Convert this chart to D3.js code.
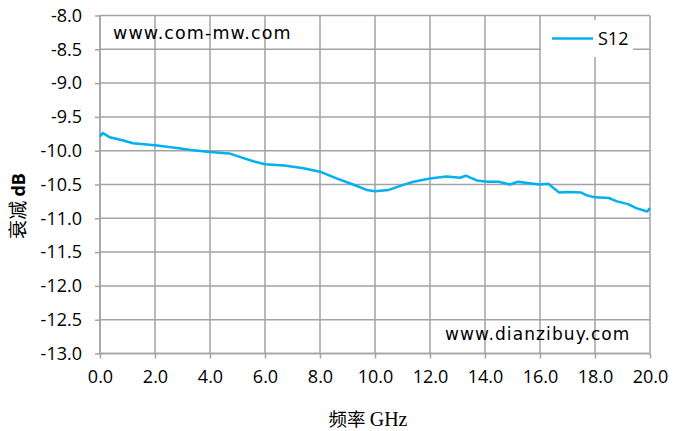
<!DOCTYPE html>
<html>
<head>
<meta charset="utf-8">
<script src="https://cdn.jsdelivr.net/npm/d3@7"></script>
<style>
  body { margin: 0; background: #fff; }
  svg { display: block; }
</style>
</head>
<body>
<svg id="chart"></svg>
<script>
// values
var freqGHz = [0, 0.1, 0.35, 0.85, 1.2, 2.0, 2.8, 3.3, 4.0, 4.7, 5.0, 5.6, 6.0, 6.7, 7.4, 8.0,
    8.6, 9.2, 9.7, 10.0, 10.5, 11.0, 11.4, 12.0, 12.6, 13.1, 13.3, 13.7, 14.1, 14.5, 14.9,
    15.2, 15.6, 16.0, 16.3, 16.7, 17.0, 17.5, 17.7, 18.0, 18.5, 18.8, 19.2, 19.5, 19.9, 20.0];
var s12 = [-9.79, -9.74, -9.80, -9.85, -9.89, -9.92, -9.96, -9.99, -10.02, -10.04, -10.08, -10.16,
    -10.20, -10.22, -10.26, -10.31, -10.41, -10.50, -10.58, -10.60, -10.58, -10.51, -10.46, -10.41,
    -10.38, -10.40, -10.37, -10.44, -10.46, -10.46, -10.50, -10.46, -10.48, -10.50, -10.49, -10.62,
    -10.61, -10.62, -10.66, -10.69, -10.70, -10.75, -10.79, -10.85, -10.90, -10.85];
var xTicks = [0, 2, 4, 6, 8, 10, 12, 14, 16, 18, 20];
var yTicks = [-8, -8.5, -9, -9.5, -10, -10.5, -11, -11.5, -12, -12.5, -13];
var seriesName = "S12";

var svgWidth = 685, svgHeight = 431;
var margin = { top: 15.5, right: 35, bottom: 77.5, left: 100 };
var width = svgWidth - margin.left - margin.right;
var height = svgHeight - margin.top - margin.bottom;

var svg = d3.select("#chart")
    .attr("width", svgWidth)
    .attr("height", svgHeight);

var xScale = d3.scaleLinear().domain([0, 20]).range([0, width]);
var yScale = d3.scaleLinear().domain([-13, -8]).range([height, 0]);

var g = svg.append("g")
    .attr("transform", "translate(" + margin.left + "," + margin.top + ")");

var gridColor = "#a3a3a3";
var tickFont = "'Open Sans', sans-serif";
// plain hyphen for the minus sign, like the original
var fmt = function(d) { return d.toFixed(1); };

// gridlines
g.append("g").selectAll("line").data(yTicks).join("line")
    .attr("x1", 0).attr("x2", width)
    .attr("y1", d => yScale(d)).attr("y2", d => yScale(d))
    .attr("stroke", gridColor).attr("stroke-width", 1.5);
g.append("g").selectAll("line").data(xTicks).join("line")
    .attr("x1", d => xScale(d)).attr("x2", d => xScale(d))
    .attr("y1", 0).attr("y2", height)
    .attr("stroke", gridColor).attr("stroke-width", 1.5);

// axes
var xAxis = d3.axisBottom(xScale).tickValues(xTicks).tickFormat(fmt)
    .tickSize(5).tickPadding(12);
var yAxis = d3.axisLeft(yScale).tickValues(yTicks).tickFormat(fmt)
    .tickSize(5).tickPadding(13);

var gx = g.append("g").attr("transform", "translate(0," + height + ")").call(xAxis);
var gy = g.append("g").call(yAxis);

[gx, gy].forEach(function(a) {
    a.select(".domain").attr("stroke", gridColor).attr("stroke-width", 1.5);
    a.selectAll(".tick line").attr("stroke", gridColor).attr("stroke-width", 1.5);
    a.selectAll(".tick text")
        .attr("fill", "#000")
        .style("font-family", tickFont)
        .style("font-size", "18px");
});
gx.select(".domain").attr("d", "M0,0H" + width);
gy.select(".domain").attr("d", "M0,0V" + height);

// watermarks
g.append("text")
    .attr("x", 13).attr("y", 23.5)
    .style("font-family", "'DejaVu Sans', sans-serif")
    .style("font-size", "17.5px")
    .style("letter-spacing", "1.1px")
    .text("www.com-mw.com");
g.append("text")
    .attr("x", 345).attr("y", 324.5)
    .style("font-family", "'DejaVu Sans', sans-serif")
    .style("font-size", "17px")
    .style("letter-spacing", "1.1px")
    .text("www.dianzibuy.com");

// the series
var line = d3.line()
    .x(function(d) { return xScale(d[0]); })
    .y(function(d) { return yScale(d[1]); });

g.append("path")
    .datum(d3.zip(freqGHz, s12))
    .attr("fill", "none")
    .attr("stroke", "#00b0f0")
    .attr("stroke-width", 2.5)
    .attr("stroke-linejoin", "round")
    .attr("d", line);

// legend
var lg = svg.append("g").attr("transform", "translate(541,20)");
lg.append("rect").attr("width", 92).attr("height", 37).attr("fill", "#fff");
lg.append("line")
    .attr("x1", 11).attr("x2", 52).attr("y1", 18.5).attr("y2", 18.5)
    .attr("stroke", "#00b0f0").attr("stroke-width", 2.5);
lg.append("text")
    .attr("x", 57).attr("y", 24.5)
    .style("font-family", tickFont)
    .style("font-size", "18px")
    .text(seriesName);

// axis titles
var yl = svg.append("text")
    .attr("transform", "translate(25,206) rotate(-90)")
    .style("text-anchor", "middle");
yl.append("tspan")
    .style("font-family", "'Noto Sans CJK SC', sans-serif")
    .style("font-size", "19px")
    .text("衰减 ");
yl.append("tspan")
    .style("font-family", tickFont)
    .style("font-weight", "bold")
    .style("font-size", "18px")
    .text("dB");

var xl = svg.append("text")
    .attr("transform", "translate(368,426)")
    .style("text-anchor", "middle");
xl.append("tspan")
    .style("font-family", "'Noto Sans CJK SC', sans-serif")
    .style("font-size", "18.5px")
    .text("频率 ");
xl.append("tspan")
    .style("font-family", "'Liberation Serif', serif")
    .style("font-size", "20px")
    .text("GHz");
</script>
</body>
</html>
